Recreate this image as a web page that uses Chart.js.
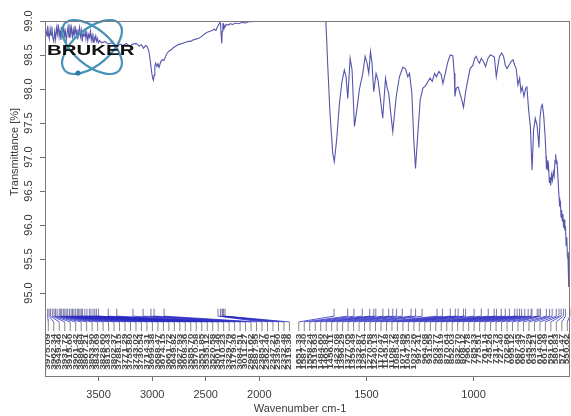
<!DOCTYPE html>
<html>
<head>
<meta charset="utf-8">
<script src="https://cdn.jsdelivr.net/npm/chart.js@4.4.1/dist/chart.umd.min.js"></script>
<style>
  html, body { margin: 0; padding: 0; background: #ffffff; }
  #wrap { width: 571px; height: 416px; position: relative; }
</style>
</head>
<body>
<div id="wrap"><canvas id="c"></canvas></div>
<script>
// IR spectrum: wavenumber (cm-1) and transmittance (%)
const wavenumber = [
  4000,3990,3981,3975,3968,3960,3952,3944,3936,3928,
  3918,3910,3901,3893,3885,3876,3868,3860,3851,3843,
  3835,3827,3818,3810,3801,3793,3785,3776,3768,3760,
  3752,3744,3736,3727,3719,3710,3702,3694,3686,3677,
  3669,3660,3652,3644,3635,3627,3618,3610,3601,3593,
  3585,3576,3568,3560,3551,3543,3535,3526,3518,3510,
  3501,3490,
  3470,3440,3410,3380,3350,3329,3300,3270,3240,3210,
  3180,3150,3120,3100,3080,3060,3045,3030,3018,3005,
  2995,2988,2982,2975,2966,2955,2945,2935,2920,2905,
  2890,2875,2860,2840,2820,2800,2780,2760,2740,2720,
  2700,2680,2660,2640,2620,2600,2580,2560,2540,2520,
  2500,2480,2460,2440,2420,2405,2395,2385,2375,2368,
  2362,2356,2350,2346,2340,2334,2330,2320,2310,2290,
  2270,2250,2220,2190,2160,2130,2100,2070,2050,2040,
  2000,1900,1800,1710,1700,
  1689,1681,1670,1657,1650,1639,1626,1614,1603,1595,
  1587,1576,1567,1556,1545,1533,1517,1506,1497,1489,
  1481,1474,1466,1455,1446,1436,1424,1411,1403,1396,
  1388,1377,1361,1346,1330,1318,1307,1299,1288,1279,
  1271,1260,1249,1237,1224,1213,1203,1193,1182,1173,
  1162,1151,1143,1132,1120,1109,1097,1090,1087,1081,
  1072,1064,1055,1047,1037,1027,1016,1003,995,988,
  980,972,964,953,944,933,922,913,903,894,
  886,879,869,860,852,844,835,826,816,808,
  801,793,785,779,773,765,757,751,743,735,
  727,720,712,704,699,695,690,684,679,673,
  666,662,660,657,653,650,646,643,640,636,
  632,628,624,620,617,614,611,608,604,601,
  598,595,592,589,586,583,580,577,574,571,
  568,565,562,559,557,555,553,551,550
];
const transmittance = [
  98.80,98.86,98.78,98.93,98.82,98.74,98.88,98.79,98.92,98.76,
  98.70,98.84,98.73,98.90,98.81,98.95,98.77,98.86,98.72,98.91,
  98.80,98.94,98.78,98.85,98.71,98.83,98.92,98.76,98.95,98.82,
  98.90,98.74,98.87,98.79,98.93,98.80,98.88,98.73,98.84,98.91,
  98.77,98.86,98.70,98.82,98.78,98.88,98.74,98.83,98.71,98.80,
  98.76,98.85,98.72,98.79,98.69,98.77,98.72,98.78,98.70,98.74,
  98.68,98.71,
  98.68,98.70,98.66,98.68,98.65,98.62,98.66,98.64,98.67,98.63,
  98.66,98.67,98.63,98.65,98.60,98.64,98.62,98.55,98.42,98.25,
  98.16,98.13,98.20,98.34,98.38,98.33,98.37,98.32,98.40,98.43,
  98.42,98.48,98.53,98.56,98.58,98.61,98.63,98.65,98.66,98.67,
  98.68,98.69,98.70,98.70,98.72,98.73,98.74,98.75,98.77,98.80,
  98.82,98.84,98.85,98.86,98.88,98.86,98.90,98.93,98.96,99.00,
  98.95,98.80,98.67,98.85,98.97,98.88,98.94,98.91,98.95,98.94,
  98.96,98.95,98.97,98.96,98.98,98.97,98.99,98.99,99.00,99.05,
  99.30,99.30,99.30,99.30,99.20,
  98.98,98.38,97.64,97.05,96.93,97.25,97.79,98.11,98.28,98.18,
  97.86,98.45,98.28,97.45,97.69,97.99,98.23,98.48,98.38,98.23,
  98.55,98.38,97.96,98.23,98.13,97.89,97.57,98.16,98.01,97.94,
  97.69,97.37,97.89,98.18,98.32,98.30,98.18,98.23,97.94,97.25,
  96.83,97.35,97.84,98.01,98.05,98.11,98.16,98.11,98.23,98.18,
  98.26,98.21,98.08,98.23,98.40,98.50,98.49,98.23,97.89,98.01,
  98.03,97.94,97.84,97.73,97.96,98.13,98.30,98.35,98.45,98.48,
  98.42,98.38,98.45,98.40,98.33,98.45,98.50,98.49,98.47,98.18,
  98.35,98.48,98.53,98.48,98.35,98.30,98.35,98.40,98.43,98.35,
  98.30,98.06,98.16,97.96,98.03,97.89,98.01,98.03,97.69,97.45,
  96.81,97.40,97.57,97.47,97.30,97.14,97.57,97.74,97.77,97.62,
  97.30,97.02,96.82,96.95,96.80,96.86,96.62,96.70,96.58,96.74,
  96.66,96.78,96.72,96.95,97.04,96.90,96.95,96.80,96.56,96.40,
  96.27,96.36,96.12,96.22,96.06,96.16,95.96,96.08,95.92,95.98,
  95.70,95.82,95.55,95.49,95.60,95.09,95.40,95.75,95.80
];

// Picked peaks, high-wavenumber group and fingerprint group (cm-1)
const peakGroupA = [
  3975.09,3962.34,3949.46,3931.72,3915.60,3901.42,3886.84,3867.21,3853.90,3843.69,
  3828.60,3815.43,3802.37,3788.15,3771.29,3755.80,3743.02,3730.54,3714.31,3699.38,
  3688.47,3674.15,3661.72,3649.82,3627.93,3608.36,3585.70,3570.58,3551.85,3535.12,
  3520.58,3501.46,3410.23,3329.79,3179.36,3084.51,3011.27,2981.62,2887.95,2385.47,
  2362.46,2347.21,2339.90,2332.48,2319.36
];
const peakGroupB = [
  1651.33,1587.40,1558.24,1519.63,1484.60,1465.82,1456.11,1423.08,1396.29,1377.05,
  1359.49,1332.87,1291.64,1270.58,1240.13,1170.47,1145.18,1108.72,1085.48,1071.89,
  1047.35,1037.26,997.41,964.08,931.55,903.77,893.19,870.64,852.03,832.70,
  808.12,796.78,785.33,775.51,761.14,745.26,731.73,727.40,702.86,695.12,
  687.45,660.37,645.29,633.21,614.06,601.49,591.61,580.83,571.47,550.62
];

// Axis ticks
const xTickValues = [3500, 3000, 2500, 2000, 1500, 1000];
const yTickValues = [95.0, 95.5, 96.0, 96.5, 97.0, 97.5, 98.0, 98.5, 99.0];
const xRange = [550, 4000];
const yRange = [93.78, 99.0];

// The wavenumber axis is compressed by a factor of two above 2000 cm-1
function axisPosition(w) { return w <= 2000 ? w : 2000 + (w - 2000) / 2; }
function axisWavenumber(u) { return u <= 2000 ? u : 2000 + (u - 2000) * 2; }

const points = wavenumber.map((w, i) => ({ x: axisPosition(w), y: transmittance[i] }));

const NARROW = "'Liberation Sans Narrow', 'Liberation Sans', Arial, sans-serif";
const TEXT = '#3a3a3a';

// Peak annotation: marker at the peak, leader to an evenly spaced slot, rotated value
const peakLabels = {
  id: 'peakLabels',
  afterDatasetsDraw(chart) {
    const { ctx, chartArea: ca, scales: { x, y } } = chart;
    const yTop = y.getPixelForValue(94.77);
    const yKnee = y.getPixelForValue(94.66);
    const ySlot = y.getPixelForValue(94.575);
    const yEnd = y.getPixelForValue(94.44);
    const step = 5.48;
    const groups = [
      { peaks: peakGroupA, slot: (i, n) => ca.left + 3.3 + i * step },
      { peaks: peakGroupB, slot: (i, n) => ca.right - 2.7 - (n - 1 - i) * step }
    ];
    ctx.save();
    ctx.lineWidth = 0.9;
    for (const g of groups) {
      const n = g.peaks.length;
      g.peaks.forEach((w, i) => {
        const xp = x.getPixelForValue(axisPosition(w));
        const xs = g.slot(i, n);
        ctx.strokeStyle = '#66669c';
        ctx.beginPath(); ctx.moveTo(xp, yTop); ctx.lineTo(xp, yKnee); ctx.stroke();
        ctx.strokeStyle = 'rgba(40,40,195,0.85)';
        ctx.beginPath(); ctx.moveTo(xp, yKnee); ctx.lineTo(xs, ySlot); ctx.stroke();
        ctx.strokeStyle = '#7a7a7a';
        ctx.beginPath(); ctx.moveTo(xs, ySlot); ctx.lineTo(xs, yEnd); ctx.stroke();
        ctx.save();
        ctx.translate(xs, yEnd + 2.5);
        ctx.rotate(-Math.PI / 2);
        ctx.scale(1, 0.66);
        ctx.font = "bold 10px 'Liberation Sans', Arial, sans-serif";
        ctx.fillStyle = '#444444';
        ctx.textAlign = 'right';
        ctx.textBaseline = 'middle';
        ctx.fillText(w.toFixed(2), 0, 0);
        ctx.restore();
      });
    }
    ctx.restore();
  }
};

// Plot box, rotated y tick labels, axis titles and the instrument logo
const frame = {
  id: 'frame',
  afterDraw(chart) {
    const { ctx, chartArea: ca, scales: { y } } = chart;
    ctx.save();

    // logo: two crossed orbits, a particle and the brand name
    const cx = ca.left + 47, cy = ca.top + 26;
    ctx.strokeStyle = '#4691b8';
    ctx.lineWidth = 2.2;
    ctx.beginPath(); ctx.ellipse(cx, cy, 36, 18, Math.PI * 40 / 180, 0, Math.PI * 2); ctx.stroke();
    ctx.beginPath(); ctx.ellipse(cx, cy, 36, 18, -Math.PI * 40 / 180, 0, Math.PI * 2); ctx.stroke();
    ctx.fillStyle = '#2f7aa6';
    ctx.beginPath(); ctx.arc(cx - 14, cy + 26, 2.6, 0, Math.PI * 2); ctx.fill();
    ctx.save();
    ctx.translate(ca.left + 2, ca.top + 33.5);
    ctx.scale(1.46, 1);
    ctx.font = "bold 14px 'Liberation Sans', Arial, sans-serif";
    ctx.fillStyle = '#111111';
    ctx.textAlign = 'left';
    ctx.textBaseline = 'alphabetic';
    ctx.fillText('BRUKER', 0, 0);
    ctx.restore();

    // box
    ctx.strokeStyle = '#7a7a7a';
    ctx.lineWidth = 1;
    ctx.strokeRect(Math.round(ca.left) + 0.5, Math.round(ca.top) + 0.5,
                   Math.round(ca.right - ca.left) - 1, Math.round(ca.bottom - ca.top));

    // y tick labels, rotated
    ctx.fillStyle = TEXT;
    ctx.font = "11px " + NARROW;
    ctx.textAlign = 'center';
    ctx.textBaseline = 'middle';
    for (const t of y.ticks) {
      ctx.save();
      ctx.translate(ca.left - 16, y.getPixelForValue(t.value));
      ctx.rotate(-Math.PI / 2);
      ctx.fillText(t.value.toFixed(1), 0, 0);
      ctx.restore();
    }

    // axis titles
    ctx.save();
    ctx.translate(15, 152);
    ctx.rotate(-Math.PI / 2);
    ctx.fillText('Transmittance [%]', 0, 0);
    ctx.restore();
    ctx.fillText('Wavenumber cm-1', 300, 409);

    ctx.restore();
  }
};

new Chart(document.getElementById('c'), {
  type: 'line',
  data: {
    datasets: [{
      data: points,
      borderColor: '#5656ac',
      borderWidth: 1.1,
      pointRadius: 0,
      fill: false,
      tension: 0
    }]
  },
  options: {
    responsive: true,
    maintainAspectRatio: false,
    animation: false,
    devicePixelRatio: 1,
    events: [],
    layout: { padding: { top: 21, right: 1, left: 0, bottom: 0 } },
    plugins: { legend: { display: false }, tooltip: { enabled: false } },
    scales: {
      x: {
        type: 'linear',
        reverse: true,
        min: axisPosition(xRange[0]),
        max: axisPosition(xRange[1]),
        afterBuildTicks: s => { s.ticks = xTickValues.map(w => ({ value: axisPosition(w) })); },
        afterFit: s => { s.height = 40; },
        ticks: {
          autoSkip: false, maxRotation: 0, minRotation: 0, padding: 7,
          color: TEXT, font: { family: NARROW, size: 11 },
          callback: v => String(Math.round(axisWavenumber(v)))
        },
        grid: { drawOnChartArea: false, drawTicks: true, tickLength: 5, color: '#707070' },
        border: { display: false }
      },
      y: {
        type: 'linear',
        min: yRange[0],
        max: yRange[1],
        afterBuildTicks: s => { s.ticks = yTickValues.map(v => ({ value: v })); },
        afterFit: s => { s.width = 45; },
        ticks: { display: false },
        grid: { drawOnChartArea: false, drawTicks: true, tickLength: 5, color: '#707070' },
        border: { display: false }
      }
    }
  },
  plugins: [peakLabels, frame]
});
</script>
</body>
</html>
